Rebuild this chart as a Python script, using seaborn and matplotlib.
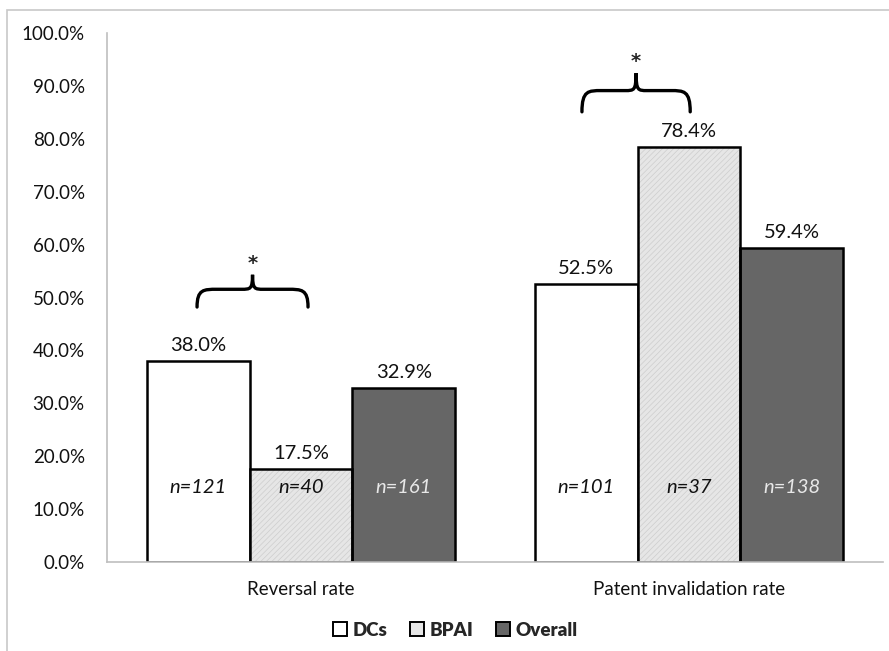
import numpy as np
import pandas as pd
import matplotlib
matplotlib.use("Agg")
import matplotlib.pyplot as plt
from matplotlib.path import Path
from matplotlib.patches import PathPatch, Patch, Rectangle
from matplotlib.ticker import FuncFormatter
import seaborn as sns

# data
metrics = ["Reversal rate", "Patent invalidation rate"]
groups = ["DCs", "BPAI", "Overall"]
rates = {
    "DCs": [38.0, 52.5],
    "BPAI": [17.5, 78.4],
    "Overall": [32.9, 59.4],
}
counts = {
    "DCs": [121, 101],
    "BPAI": [40, 37],
    "Overall": [161, 138],
}
y_ticks = list(range(0, 101, 10))

rows = []
for g in groups:
    for m, v in zip(metrics, rates[g]):
        rows.append({"metric": m, "group": g, "value": v})
df = pd.DataFrame(rows)

sns.set_theme(style="white")
plt.rcParams["font.family"] = ["Lato", "DejaVu Sans"]
plt.rcParams["hatch.linewidth"] = 0.5

colors = {"DCs": "#ffffff", "BPAI": "#e6e6e6", "Overall": "#666666"}
HATCH_COL = "#cdcdcd"
FS = 13.5
FS_VAL = 14.5

fig = plt.figure(figsize=(8.89, 6.51), dpi=100)
ax = fig.add_axes([0.1204, 0.1367, 0.8729, 0.8126])

sns.barplot(data=df, x="metric", y="value", hue="group", hue_order=groups,
            palette=colors, width=0.795, gap=0, edgecolor="black",
            linewidth=1.8, saturation=1, legend=False, ax=ax)

# fine light texture on the BPAI bars: hatch drawn in a light edge colour,
# then the black outline put back on top
for p in ax.containers[1]:
    p.set_hatch("//////")
    p.set_edgecolor(HATCH_COL)
    p.set_linewidth(0)
    ax.add_patch(Rectangle(p.get_xy(), p.get_width(), p.get_height(),
                           fill=False, edgecolor="black", linewidth=1.8,
                           zorder=p.get_zorder() + 0.1))

for cont, g in zip(ax.containers, groups):
    ax.bar_label(cont, labels=[f"{v:.1f}%" for v in rates[g]], padding=5,
                 fontsize=FS_VAL, color="#111111")
    txt_color = "#e8e8e8" if g == "Overall" else "#111111"
    for p, n in zip(cont, counts[g]):
        ax.text(p.get_x() + p.get_width() / 2, 14, f"n={n}", ha="center",
                va="center", fontsize=FS_VAL, style="italic", color=txt_color)

ax.set_ylim(0, 100)
ax.set_xlim(-0.5, 1.5)
ax.set_yticks(y_ticks)
ax.yaxis.set_major_formatter(FuncFormatter(lambda v, _: f"{v:.1f}%"))
ax.set_xlabel("")
ax.set_ylabel("")
ax.tick_params(axis="both", length=0, labelsize=FS, colors="#111111")
ax.tick_params(axis="y", pad=16)
ax.tick_params(axis="x", pad=14)
for s in ["top", "right"]:
    ax.spines[s].set_visible(False)
for s in ["left", "bottom"]:
    ax.spines[s].set_color("#bfbfbf")
    ax.spines[s].set_linewidth(1.2)


def brace(x0, x1, y0, y1):
    xa = (x0 + x1) / 2
    w = x1 - x0
    ym = y0 + 0.55 * (y1 - y0)
    verts = [
        (x0, y0), (x0, ym), (x0 + 0.06 * w, ym), (x0 + 0.18 * w, ym),
        (xa - 0.1 * w, ym),
        (xa - 0.02 * w, ym), (xa, ym), (xa, y1),
        (xa, ym), (xa + 0.02 * w, ym), (xa + 0.1 * w, ym),
        (x1 - 0.18 * w, ym),
        (x1 - 0.06 * w, ym), (x1, ym), (x1, y0),
    ]
    codes = [Path.MOVETO, Path.CURVE4, Path.CURVE4, Path.CURVE4,
             Path.LINETO,
             Path.CURVE4, Path.CURVE4, Path.CURVE4,
             Path.CURVE4, Path.CURVE4, Path.CURVE4,
             Path.LINETO,
             Path.CURVE4, Path.CURVE4, Path.CURVE4]
    ax.add_patch(PathPatch(Path(verts, codes), fill=False, lw=2.4,
                           edgecolor="black", capstyle="round"))
    ax.text(xa, y1 + 0.4, "*", ha="center", va="bottom", fontsize=14,
            fontweight="bold", family="DejaVu Sans")


brace(-0.268, 0.018, 48.2, 54.3)
brace(0.724, 1.003, 85.1, 92.4)

handles = [Patch(facecolor=colors[g], edgecolor="black", linewidth=1.4)
           for g in groups]
fig.legend(handles, groups, loc="center", bbox_to_anchor=(0.512, 0.032),
           ncol=3, frameon=False, handlelength=0.75, handleheight=0.75,
           handletextpad=0.3, columnspacing=1.2,
           prop={"size": FS, "weight": "heavy"})

# light frame around the chart area (cut off at right and bottom)
fig.add_artist(Rectangle((7 / 889, -0.2), 1.2, 1.2 - 10 / 651,
                         transform=fig.transFigure, fill=False,
                         edgecolor="#c8c8c8", lw=1.2, clip_on=False))

fig.savefig("out.png", dpi=100)
